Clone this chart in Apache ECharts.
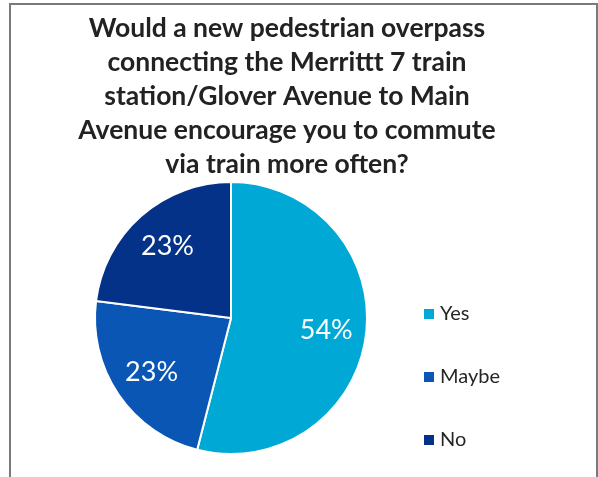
<!DOCTYPE html>
<html>
<head>
<meta charset="utf-8">
<script src="https://cdn.jsdelivr.net/npm/echarts@6/dist/echarts.min.js"></script>
<style>
  html, body { margin: 0; padding: 0; background: #fff; }
  #chart { width: 598px; height: 477px; }
</style>
</head>
<body>
<div id="chart"></div>
<script>
var categories = ['Yes', 'Maybe', 'No']
var values = [54, 23, 23]
var colors = ['#00A8D6', '#0A56B5', '#043289']

var chart = echarts.init(document.getElementById('chart'))

var pieData = categories.map(function (name, i) {
  return { name: name, value: values[i], itemStyle: { color: colors[i] } }
})

chart.setOption({
  animation: false,
  title: {
    text: 'Would a new pedestrian overpass\nconnecting the Merrittt 7 train\nstation/Glover Avenue to Main\nAvenue encourage you to commute\nvia train more often?',
    left: 282,
    textAlign: 'center',
    top: 6,
    textStyle: {
      fontFamily: 'Lato',
      fontWeight: 'bold',
      fontSize: 26.5,
      lineHeight: 34,
      color: '#222'
    }
  },
  legend: {
    orient: 'vertical',
    left: 417,
    top: 299,
    itemWidth: 12,
    itemHeight: 12,
    itemGap: 43,
    icon: 'rect',
    data: categories,
    textStyle: {
      fontFamily: 'Lato',
      fontSize: 20,
      color: '#262626'
    }
  },
  graphic: [{
    type: 'rect',
    shape: { x: 10, y: 4, width: 587, height: 500 },
    style: { fill: 'none', stroke: '#7a7a7a', lineWidth: 2 },
    silent: true
  }],
  series: [
    {
      type: 'pie',
      center: [231, 318],
      radius: [0, 136],
      startAngle: 90,
      clockwise: true,
      data: pieData,
      label: { show: false },
      labelLine: { show: false },
      itemStyle: { borderColor: '#fff', borderWidth: 2 }
    },
    {
      // label-only ring so the percent sits further out
      type: 'pie',
      center: [231, 318],
      radius: [50, 136],
      startAngle: 90,
      clockwise: true,
      silent: true,
      legendHoverLink: false,
      data: categories.map(function (name, i) {
        return { name: name + ' ', value: values[i], itemStyle: { color: 'transparent' } }
      }),
      label: {
        show: true,
        position: 'inside',
        formatter: '{c}%',
        color: '#fff',
        fontFamily: 'Lato',
        fontSize: 27
      },
      labelLine: { show: false }
    }
  ]
})
</script>
</body>
</html>
